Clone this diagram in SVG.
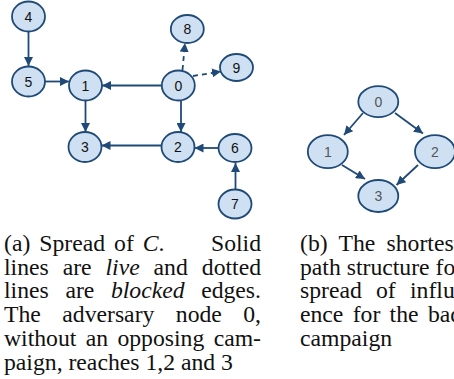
<svg xmlns="http://www.w3.org/2000/svg" width="454" height="379" viewBox="0 0 454 379">
<defs>
<style>
.n ellipse{fill:#cfe0f2;stroke:#1f4a77;stroke-width:1.8}
.n text{font-family:"Liberation Sans",Arial,sans-serif;font-size:14px;fill:#111;text-anchor:middle;dominant-baseline:central}
.r ellipse{fill:#cfe0f2;stroke:#1f4a77;stroke-width:1.8}
.r text{font-family:"Liberation Sans",Arial,sans-serif;font-size:14px;fill:#555;text-anchor:middle;dominant-baseline:central}
.e line{stroke:#1f4a77;stroke-width:1.8;marker-end:url(#ah)}
.e line.d{stroke-dasharray:5 4}
.cap{font-family:"Liberation Serif","Times New Roman",serif;font-size:23.7px;fill:#111}
.it{font-style:italic}
</style>
<marker id="ah" viewBox="0 0 10 10" refX="10" refY="5" markerWidth="9" markerHeight="9" markerUnits="userSpaceOnUse" orient="auto">
<path d="M0,0 L10,5 L0,10 z" fill="#1f4a77"/>
</marker>
</defs>
<g id="connectors" class="e">
<line x1="28.5" y1="32" x2="28.5" y2="66"/>
<line x1="44.5" y1="81.5" x2="69" y2="81.5"/>
<line x1="161.5" y1="85.5" x2="102" y2="85.5"/>
<line x1="85.5" y1="101" x2="85.5" y2="132"/>
<line x1="181" y1="100.5" x2="181" y2="132"/>
<line x1="161.5" y1="145.5" x2="101.5" y2="145.5"/>
<line x1="218.5" y1="148" x2="194.5" y2="148"/>
<line x1="235.5" y1="189" x2="235.5" y2="163"/>
<line class="d" x1="182.5" y1="70" x2="185" y2="43"/>
<line class="d" x1="193" y1="76" x2="221" y2="71.5"/>
<line x1="363" y1="113" x2="344" y2="135"/>
<line x1="395" y1="113" x2="423" y2="133.5"/>
<line x1="342" y1="165" x2="365" y2="179"/>
<line x1="418" y1="165" x2="396.5" y2="185"/>
</g>
<g class="n">
<g id="a4"><ellipse cx="28.5" cy="16.5" rx="16.5" ry="15"/><text x="28.5" y="16.5">4</text></g>
<g id="a5"><ellipse cx="28.5" cy="81.5" rx="16.5" ry="15"/><text x="28.5" y="81.5">5</text></g>
<g id="a1"><ellipse cx="85.5" cy="85.5" rx="16.5" ry="15"/><text x="85.5" y="85.5">1</text></g>
<g id="a0"><ellipse cx="178.3" cy="85.5" rx="16.5" ry="15"/><text x="178.3" y="85.5">0</text></g>
<g id="a8"><ellipse cx="187.3" cy="29" rx="16.5" ry="14"/><text x="187.3" y="29">8</text></g>
<g id="a9"><ellipse cx="236.5" cy="67.5" rx="16.5" ry="13.5"/><text x="236.5" y="67.5">9</text></g>
<g id="a3"><ellipse cx="85" cy="147" rx="16.5" ry="15"/><text x="85" y="147">3</text></g>
<g id="a2"><ellipse cx="178" cy="147" rx="16.5" ry="15"/><text x="178" y="147">2</text></g>
<g id="a6"><ellipse cx="235" cy="148" rx="16.5" ry="14"/><text x="235" y="148">6</text></g>
<g id="a7"><ellipse cx="235" cy="204" rx="16.5" ry="14.5"/><text x="235" y="204">7</text></g>
</g>
<g class="r">
<g id="b0"><ellipse cx="378.3" cy="101.7" rx="20" ry="15.5"/><text x="378.3" y="101.7">0</text></g>
<g id="b1"><ellipse cx="327.8" cy="151.7" rx="20" ry="16.5"/><text x="327.8" y="151.7">1</text></g>
<g id="b2"><ellipse cx="435" cy="151.7" rx="20" ry="16.5"/><text x="435" y="151.7">2</text></g>
<g id="b3"><ellipse cx="378.3" cy="196" rx="20" ry="16"/><text x="378.3" y="196">3</text></g>
</g>
<g id="caption-a" class="cap">
<text y="251"><tspan x="4">(a)</tspan><tspan x="39.3">Spread</tspan><tspan x="114.1">of</tspan><tspan x="142.8" class="it">C</tspan><tspan>.</tspan><tspan x="261" text-anchor="end">Solid</tspan></text>
<text y="274.7"><tspan x="4">lines</tspan><tspan x="62.7">are</tspan><tspan x="105.5" class="it">live</tspan><tspan x="153.6">and</tspan><tspan x="261" text-anchor="end">dotted</tspan></text>
<text y="298.4"><tspan x="4">lines</tspan><tspan x="65.4">are</tspan><tspan x="110.9" class="it">blocked</tspan><tspan x="261" text-anchor="end">edges.</tspan></text>
<text y="322.1"><tspan x="4">The</tspan><tspan x="62.3">adversary</tspan><tspan x="175.8">node</tspan><tspan x="261" text-anchor="end">0,</tspan></text>
<text y="345.8"><tspan x="4">without</tspan><tspan x="85.7">an</tspan><tspan x="117.4">opposing</tspan><tspan x="261" text-anchor="end">cam-</tspan></text>
<text x="4" y="369.5">paign, reaches 1,2 and 3</text>
</g>
<g id="caption-b" class="cap">
<text y="251"><tspan x="300">(b)</tspan><tspan x="338.5">The</tspan><tspan x="386.5">shortest</tspan></text>
<text x="300" y="274.7">path structure for</text>
<text y="298.4"><tspan x="300">spread</tspan><tspan x="376">of</tspan><tspan x="410">influ-</tspan></text>
<text y="322.1"><tspan x="300">ence</tspan><tspan x="352.7">for</tspan><tspan x="389.6">the</tspan><tspan x="428">bad</tspan></text>
<text x="300" y="345.8">campaign</text>
</g>
</svg>
